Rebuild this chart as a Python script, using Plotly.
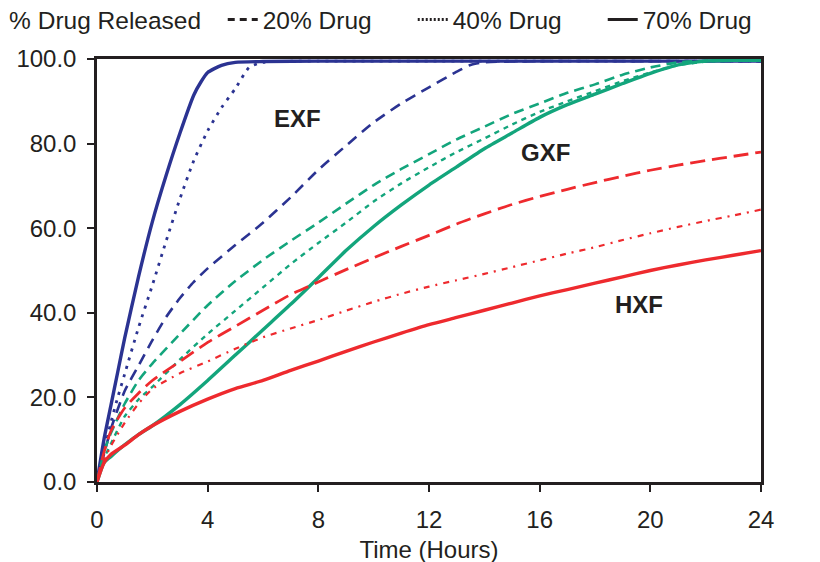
import plotly.graph_objects as go

# ---------------- data ----------------
t_exf70 = [0, 0.25, 0.5, 0.75, 1, 1.5, 2, 2.5, 3, 3.5, 3.75, 4, 4.5, 5, 6, 8, 12, 16, 20, 24]
exf70 = [0, 10, 18, 26, 34, 48.5, 61.5, 72.5, 82.5, 91.5, 94.5, 96.8, 98.5, 99.2, 99.4, 99.5, 99.5, 99.5, 99.5, 99.5]

t_exf40 = [0, 0.25, 0.5, 0.75, 1, 1.5, 2, 2.5, 3, 3.5, 4, 4.5, 5, 5.5, 6, 8, 12, 16, 20, 24]
exf40 = [0, 7, 14, 20, 25.5, 36.5, 46.5, 57, 67, 76, 83, 88.5, 93, 98, 99.2, 99.5, 99.5, 99.5, 99.5, 99.5]

t_exf20 = [0, 0.25, 0.5, 1, 1.5, 2, 2.5, 3, 3.5, 4, 5, 6, 7, 8, 9, 10, 11, 12, 13, 13.5, 14, 16, 20, 24]
exf20 = [0, 6.5, 12.5, 21.5, 27.5, 33.5, 39, 43.5, 47.3, 50.5, 56, 61.3, 67.3, 73.8, 79.5, 85, 89.5, 93.3, 97, 98.6, 99.2, 99.5, 99.5, 99.5]

t_hours = [0, 0.25, 0.5, 1, 1.5, 2, 3, 4, 5, 6, 7, 8, 9, 10, 11, 12,
           13, 14, 15, 16, 17, 18, 19, 20, 21, 22, 23, 24]

gxf70 = [0, 4.5, 6, 8.8, 11.2, 13.3, 18.3, 24, 30, 36, 42, 48.3, 54.7, 60.4, 65.5, 70.2,
         74.5, 78.8, 82.5, 86.2, 89.2, 91.7, 94.2, 96.6, 98.6, 99.5, 99.7, 99.7]
gxf40 = [0, 5.5, 9, 15.5, 19.5, 22.5, 29, 35, 40.5, 46, 51.5, 56.5, 61.3, 66.3, 70.6, 74.4,
         78, 81.2, 84.5, 87.5, 90, 92.4, 94.8, 96.8, 98.5, 99.4, 99.6, 99.7]
gxf20 = [0, 7, 11.5, 18.5, 24, 28, 35, 41.8, 47.5, 52.5, 57, 61.3, 65.8, 70.2, 74, 77.5,
         81, 84, 87, 89.5, 92, 94, 96.3, 98, 99.2, 99.6, 99.7, 99.7]

hxf70 = [0, 4.5, 6.5, 8.7, 11.2, 13.3, 16.7, 19.6, 22.1, 24, 26.4, 28.6, 30.9, 33.1, 35.2, 37.2,
         38.9, 40.6, 42.3, 44, 45.5, 47, 48.5, 50, 51.3, 52.5, 53.6, 54.7]
hxf40 = [0, 5, 8.5, 14, 18.5, 22, 25.7, 28.5, 31.5, 34.2, 36.3, 38.3, 40.5, 42.6, 44.5, 46.2,
         47.7, 49.2, 50.8, 52.4, 54, 55.5, 57.2, 58.8, 60.3, 61.7, 63, 64.4]
hxf20 = [0, 7, 12, 17.5, 21, 24, 28.5, 33, 36.8, 40.6, 44.3, 47.3, 50.2, 53, 55.7, 58.3,
         61, 63.4, 65.6, 67.5, 69.2, 70.8, 72.3, 73.7, 74.9, 76, 77, 78]

legend_labels = ["20% Drug", "40% Drug", "70% Drug"]
x_ticks = [0, 4, 8, 12, 16, 20, 24]
y_ticks = [0, 20, 40, 60, 80, 100]
formulations = ["EXF", "GXF", "HXF"]
label_pos_x = [7.25, 16.2, 19.6]
label_pos_y = [86, 78, 42]

# ---------------- styles ----------------
BLUE = "#2b3392"
GREEN = "#13a57c"
RED = "#ee2a2e"
INK = "#231f20"
FONT = "Liberation Sans, Arial, sans-serif"

fig = go.Figure()

series = [
    (t_exf20, exf20, BLUE, "11px,7px", 2.6),
    (t_exf40, exf40, BLUE, "3px,6px", 2.8),
    (t_exf70, exf70, BLUE, "solid", 3.4),
    (t_hours, gxf20, GREEN, "10px,6px", 2.6),
    (t_hours, gxf40, GREEN, "5px,5px", 2.4),
    (t_hours, gxf70, GREEN, "solid", 3.4),
    (t_hours, hxf20, RED, "15px,7px", 2.8),
    (t_hours, hxf40, RED, "6px,6px,2px,6px", 2.2),
    (t_hours, hxf70, RED, "solid", 3.4),
]
for xs, ys, col, dash, w in series:
    fig.add_trace(go.Scatter(
        x=xs, y=ys, mode="lines", showlegend=False, hoverinfo="skip",
        line=dict(color=col, dash=dash, width=w, shape="spline", smoothing=0.6),
    ))

for lab, dash in zip(legend_labels, ["7px,5px", "2px,2px", "solid"]):
    fig.add_trace(go.Scatter(
        x=[None], y=[None], mode="lines", name=lab,
        line=dict(color=INK, dash=dash, width=3),
    ))

for name, lx, ly in zip(formulations, label_pos_x, label_pos_y):
    fig.add_annotation(x=lx, y=ly, text="<b>" + name + "</b>", showarrow=False,
                       font=dict(family=FONT, size=24, color=INK))

axis_common = dict(
    showline=True, linecolor=INK, linewidth=2.5, mirror=True,
    ticks="outside", ticklen=7, tickwidth=2.2, tickcolor=INK,
    showgrid=False, zeroline=False,
    tickfont=dict(family=FONT, size=24, color=INK),
)

fig.update_layout(
    width=820, height=562,
    margin=dict(l=88.5, r=67, t=51, b=88, autoexpand=False),
    paper_bgcolor="white", plot_bgcolor="white",
    font=dict(family=FONT, size=24, color=INK),
    xaxis=dict(range=[0, 24], tickvals=x_ticks, ticklabelstandoff=7,
               title=dict(text="\u00a0\u00a0\u00a0\u00a0Time (Hours)", standoff=10,
                          font=dict(family=FONT, size=24, color=INK)),
               **axis_common),
    yaxis=dict(range=[0, 100], tickvals=y_ticks, tickformat=".1f",
               ticklabelstandoff=6, **axis_common),
    legend=dict(
        orientation="h", x=-0.1354, xanchor="left", y=1.093, yanchor="middle",
        title=dict(text="% Drug Released  ", side="left",
                   font=dict(family=FONT, size=24.5, color=INK)),
        font=dict(family=FONT, size=24.5, color=INK),
        bgcolor="rgba(0,0,0,0)", itemwidth=30, tracegroupgap=0,
        entrywidth=145,
    ),
    showlegend=True,
)

fig.write_html("out.html")
